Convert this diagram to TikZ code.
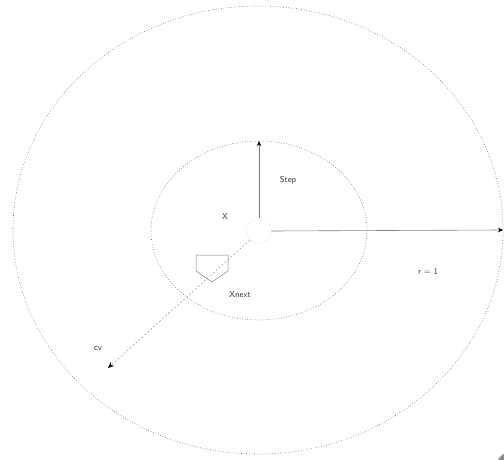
\documentclass[tikz,border=0pt]{standalone}
\usepackage{tikz}
\usetikzlibrary{arrows.meta,positioning,shapes.geometric}

\begin{document}
\begin{tikzpicture}[
  x=1pt, y=-1pt,
  ring/.style={draw=black!60, dotted, line width=0.6pt},
  arrow/.style={draw=black!50, line width=0.6pt, -{Stealth[length=5pt,width=4.5pt,black]}},
  darrow/.style={draw=black!40, dash pattern=on 2pt off 2pt, line width=0.5pt, -{Stealth[length=6pt,width=5pt,black]}},
  lbl/.style={font=\fontsize{8.5}{10}\sffamily, text=black!80, inner sep=1pt}
]
\useasboundingbox (0,0) rectangle (504,460);

% outer and inner regions
\draw[ring] (258,230) ellipse [x radius=245, y radius=224];
\draw[ring] (259,230.5) ellipse [x radius=108, y radius=89.5];

% current point
\node[circle, draw=black!12, densely dashed, minimum size=25pt, inner sep=0pt] (x) at (259,231) {};
\coordinate (top) at (259,141);
\coordinate (rgt) at (503,230);
\coordinate (dir) at (108,368);

\draw[arrow] (x.north) -- (top);
\draw[arrow] (x.east) -- (rgt);
\draw[darrow] (x.south west) -- (dir);

% next point marker
\draw[draw=black!50, line width=0.5pt] (196,271) -- (196,255) -- (228,255) -- (228,271) -- (212,282) -- cycle;

% labels
\node[lbl] (step) at (288,180) {Step};
\node[lbl] (xl) at (225,217) {X};
\node[lbl] (xnext) at (240,295) {Xnext};
\node[lbl] (cv) at (98,349) {cv};
\node[lbl] (rad) at (428,272) {r = 1};

% corner mark
\node[diamond, fill=black!45, minimum size=10pt, inner sep=0pt] (corner) at (503,459) {};
\end{tikzpicture}
\end{document}
